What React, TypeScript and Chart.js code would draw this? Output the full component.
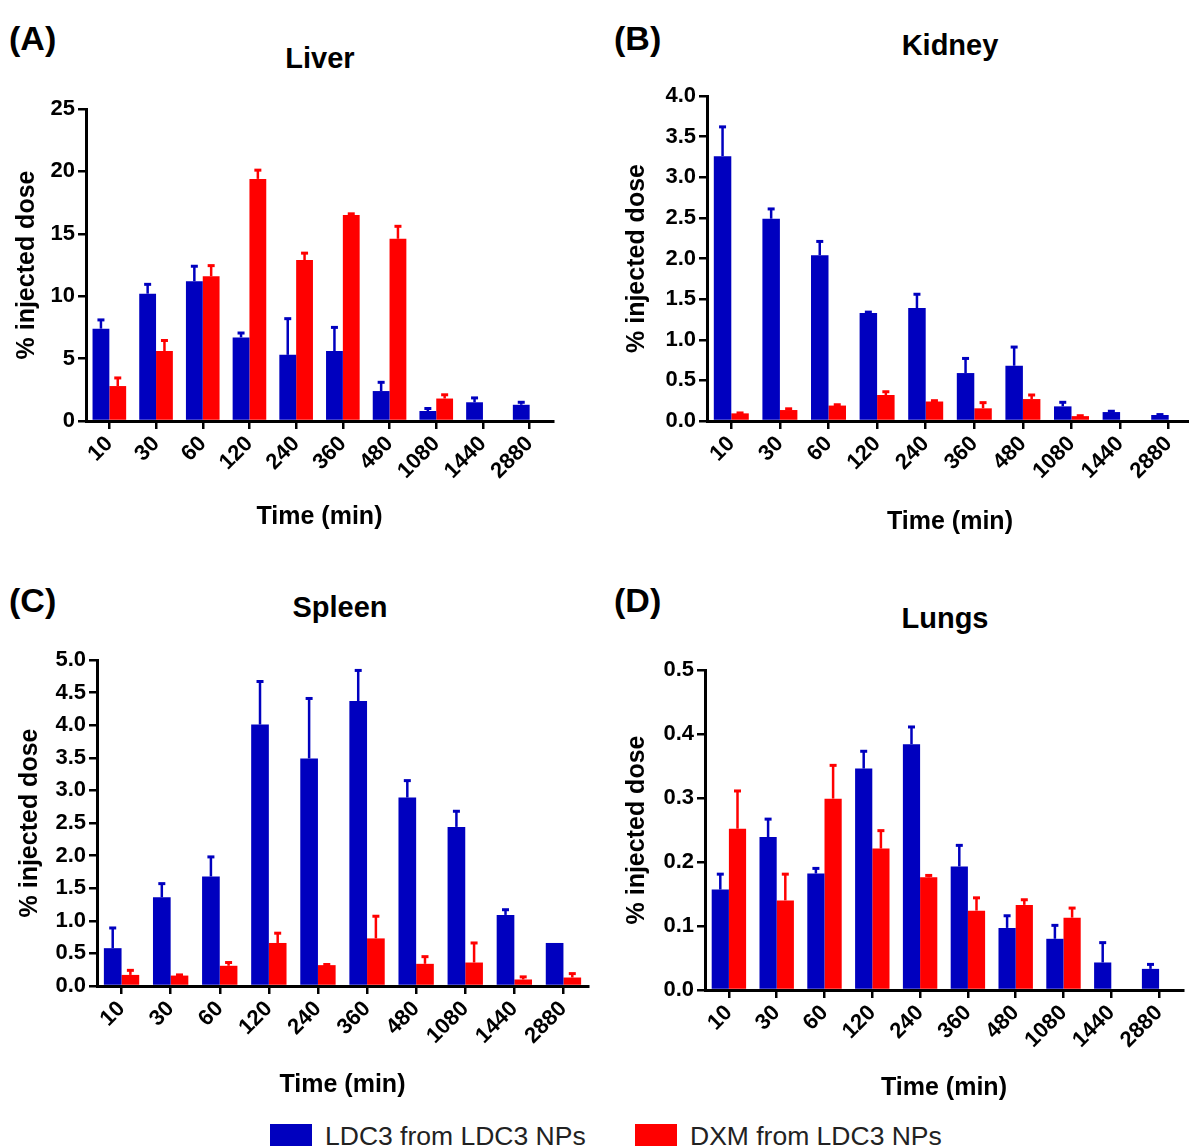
import React, { useEffect, useRef } from "react";
import { Chart, registerables } from "chart.js";

Chart.register(...registerables);

// ---------- DATA ----------
const categories = ["10", "30", "60", "120", "240", "360", "480", "1080", "1440", "2880"];

const liverLdc3 = [7.4, 10.2, 11.2, 6.7, 5.3, 5.6, 2.4, 0.8, 1.5, 1.3];
const liverLdc3Sd = [0.7, 0.75, 1.2, 0.35, 2.9, 1.9, 0.7, 0.2, 0.35, 0.2];
const liverDxm = [2.8, 5.6, 11.6, 19.4, 12.9, 16.5, 14.6, 1.8, null, null];
const liverDxmSd = [0.65, 0.85, 0.85, 0.7, 0.55, 0.1, 1.0, 0.3, null, null];
const liverTicks = [0, 5, 10, 15, 20, 25];

const kidneyLdc3 = [3.26, 2.49, 2.04, 1.33, 1.39, 0.59, 0.68, 0.18, 0.11, 0.074];
const kidneyLdc3Sd = [0.36, 0.12, 0.17, 0.01, 0.17, 0.18, 0.23, 0.05, 0.01, 0.005];
const kidneyDxm = [0.094, 0.135, 0.19, 0.32, 0.24, 0.156, 0.27, 0.06, null, null];
const kidneyDxmSd = [0.005, 0.015, 0.01, 0.04, 0.01, 0.07, 0.05, 0.005, null, null];
const kidneyTicks = [0, 0.5, 1.0, 1.5, 2.0, 2.5, 3.0, 3.5, 4.0];

const spleenLdc3 = [0.58, 1.36, 1.68, 4.01, 3.49, 4.37, 2.89, 2.44, 1.09, 0.66];
const spleenLdc3Sd = [0.31, 0.21, 0.3, 0.66, 0.92, 0.47, 0.26, 0.24, 0.08, 0];
const spleenDxm = [0.17, 0.16, 0.31, 0.66, 0.32, 0.73, 0.34, 0.36, 0.1, 0.13];
const spleenDxmSd = [0.07, 0.01, 0.05, 0.15, 0.01, 0.34, 0.11, 0.3, 0.04, 0.06];
const spleenTicks = [0, 0.5, 1.0, 1.5, 2.0, 2.5, 3.0, 3.5, 4.0, 4.5, 5.0];

const lungsLdc3 = [0.157, 0.239, 0.182, 0.346, 0.384, 0.193, 0.097, 0.08, 0.043, 0.033];
const lungsLdc3Sd = [0.024, 0.028, 0.008, 0.027, 0.027, 0.033, 0.019, 0.021, 0.031, 0.007];
const lungsDxm = [0.252, 0.14, 0.299, 0.221, 0.176, 0.124, 0.133, 0.113, null, null];
const lungsDxmSd = [0.059, 0.041, 0.052, 0.028, 0.003, 0.02, 0.008, 0.015, null, null];
const lungsTicks = [0, 0.1, 0.2, 0.3, 0.4, 0.5];

const seriesNames = ["LDC3 from LDC3 NPs", "DXM from LDC3 NPs"];
const xTitle = "Time (min)";
const yTitle = "% injected dose";

// ---------- STYLE ----------
const BLUE = "#0000BF";
const RED = "#FF0000";
const FAMILY = "'Liberation Sans', Arial, Helvetica, sans-serif";

const errorBarPlugin = {
  id: "errorBars",
  afterDatasetsDraw(chart: any) {
    const ctx = chart.ctx;
    const yScale = chart.scales.y;
    chart.data.datasets.forEach((ds: any, di: number) => {
      const meta = chart.getDatasetMeta(di);
      if (meta.hidden) return;
      const errs = ds.errorBars || [];
      meta.data.forEach((bar: any, i: number) => {
        const v = ds.data[i];
        const e = errs[i];
        if (v == null || e == null || e <= 0) return;
        const x = bar.x;
        const y0 = bar.y;
        const y1 = yScale.getPixelForValue(v + e);
        ctx.save();
        ctx.strokeStyle = ds.backgroundColor;
        ctx.lineWidth = 2.5;
        ctx.beginPath();
        ctx.moveTo(x, y0);
        ctx.lineTo(x, y1);
        ctx.stroke();
        ctx.lineWidth = 3;
        ctx.beginPath();
        ctx.moveTo(x - 3.5, y1);
        ctx.lineTo(x + 3.5, y1);
        ctx.stroke();
        ctx.restore();
      });
    });
  },
};

type PanelProps = {
  ldc3: (number | null)[];
  ldc3Sd: (number | null)[];
  dxm: (number | null)[];
  dxmSd: (number | null)[];
  ticks: number[];
  decimals: number;
  left: number;
  top: number;
  width: number;
  height: number;
  padTop: number;
  padRight: number;
  yWidth: number;
  xHeight: number;
  yTitlePad: number;
  xTitlePad: number;
};

function Panel(p: PanelProps) {
  const ref = useRef<HTMLCanvasElement | null>(null);
  useEffect(() => {
    if (!ref.current) return;
    const tickFont = { family: FAMILY, size: 22, weight: "bold" as const };
    const titleFont = { family: FAMILY, size: 25, weight: "bold" as const };
    const grid = {
      display: true,
      offset: false,
      drawOnChartArea: false,
      drawTicks: true,
      tickLength: 8,
      lineWidth: 2.5,
      color: "#000",
    };
    const border = { display: true, color: "#000", width: 3 };
    const chart = new Chart(ref.current, {
      type: "bar",
      data: {
        labels: categories,
        datasets: [
          {
            label: seriesNames[0],
            data: p.ldc3 as any,
            errorBars: p.ldc3Sd,
            backgroundColor: BLUE,
            categoryPercentage: 0.72,
            barPercentage: 1.0,
          } as any,
          {
            label: seriesNames[1],
            data: p.dxm as any,
            errorBars: p.dxmSd,
            backgroundColor: RED,
            categoryPercentage: 0.72,
            barPercentage: 1.0,
          } as any,
        ],
      },
      options: {
        responsive: false,
        animation: false,
        layout: { padding: { top: p.padTop, right: p.padRight, left: 0, bottom: 0 } },
        plugins: {
          legend: { display: false },
          tooltip: { enabled: false },
          title: { display: false },
        },
        scales: {
          x: {
            type: "category",
            offset: true,
            grid: grid as any,
            border: border as any,
            ticks: {
              autoSkip: false,
              minRotation: 45,
              maxRotation: 45,
              color: "#000",
              font: tickFont,
              padding: 2,
            },
            title: {
              display: true,
              text: xTitle,
              color: "#000",
              font: titleFont,
              padding: { top: 0, bottom: p.xTitlePad },
            },
            afterFit: (s: any) => {
              s.height = p.xHeight;
            },
          },
          y: {
            type: "linear",
            min: p.ticks[0],
            max: p.ticks[p.ticks.length - 1],
            grid: grid as any,
            border: border as any,
            afterBuildTicks: (s: any) => {
              s.ticks = p.ticks.map((v) => ({ value: v }));
            },
            ticks: {
              color: "#000",
              font: tickFont,
              padding: 3,
              callback: (v: any) => Number(v).toFixed(p.decimals),
            },
            title: {
              display: true,
              text: yTitle,
              color: "#000",
              font: titleFont,
              padding: { top: p.yTitlePad, bottom: 0 },
            },
            afterFit: (s: any) => {
              s.width = p.yWidth;
            },
          },
        },
      } as any,
      plugins: [errorBarPlugin],
    });
    return () => chart.destroy();
  }, []);
  return (
    <canvas
      ref={ref}
      width={p.width}
      height={p.height}
      style={{ position: "absolute", left: p.left, top: p.top, width: p.width, height: p.height }}
    />
  );
}

function Label(props: { text: string; x: number; y: number; size: number; center?: boolean }) {
  return (
    <div
      style={{
        position: "absolute",
        left: props.x,
        top: props.y,
        transform: props.center ? "translate(-50%, -50%)" : "translate(0, -50%)",
        fontFamily: FAMILY,
        fontWeight: "bold",
        fontSize: props.size,
        lineHeight: 1,
        whiteSpace: "nowrap",
        color: "#000",
      }}
    >
      {props.text}
    </div>
  );
}

export default function App() {
  return (
    <div
      style={{
        position: "absolute",
        left: 0,
        top: 0,
        width: 1189,
        height: 1147,
        overflow: "hidden",
        background: "#fff",
      }}
    >
      <Panel
        ldc3={liverLdc3}
        ldc3Sd={liverLdc3Sd}
        dxm={liverDxm}
        dxmSd={liverDxmSd}
        ticks={liverTicks}
        decimals={0}
        left={0}
        top={90}
        width={575}
        height={460}
        padTop={19}
        padRight={22}
        yWidth={86}
        xHeight={129}
        yTitlePad={12}
        xTitlePad={18}
      />
      <Panel
        ldc3={kidneyLdc3}
        ldc3Sd={kidneyLdc3Sd}
        dxm={kidneyDxm}
        dxmSd={kidneyDxmSd}
        ticks={kidneyTicks}
        decimals={1}
        left={600}
        top={75}
        width={595}
        height={470}
        padTop={21}
        padRight={2}
        yWidth={107}
        xHeight={124}
        yTitlePad={22}
        xTitlePad={8}
      />
      <Panel
        ldc3={spleenLdc3}
        ldc3Sd={spleenLdc3Sd}
        dxm={spleenDxm}
        dxmSd={spleenDxmSd}
        ticks={spleenTicks}
        decimals={1}
        left={0}
        top={640}
        width={600}
        height={470}
        padTop={20}
        padRight={12}
        yWidth={97}
        xHeight={124}
        yTitlePad={15}
        xTitlePad={10}
      />
      <Panel
        ldc3={lungsLdc3}
        ldc3Sd={lungsLdc3Sd}
        dxm={lungsDxm}
        dxmSd={lungsDxmSd}
        ticks={lungsTicks}
        decimals={1}
        left={600}
        top={650}
        width={589}
        height={460}
        padTop={20}
        padRight={6}
        yWidth={105}
        xHeight={120}
        yTitlePad={22}
        xTitlePad={7}
      />

      <Label text="(A)" x={9} y={38} size={34} />
      <Label text="(B)" x={614} y={38} size={34} />
      <Label text="(C)" x={9} y={600} size={34} />
      <Label text="(D)" x={614} y={600} size={34} />

      <Label text="Liver" x={320} y={58} size={29} center />
      <Label text="Kidney" x={950} y={45} size={29} center />
      <Label text="Spleen" x={340} y={607} size={29} center />
      <Label text="Lungs" x={945} y={618} size={29} center />

      <div style={{ position: "absolute", left: 270, top: 1124, width: 42, height: 22, background: BLUE }} />
      <div
        style={{
          position: "absolute",
          left: 325,
          top: 1136,
          transform: "translate(0, -50%)",
          fontFamily: FAMILY,
          fontSize: 26.5,
          lineHeight: 1,
          whiteSpace: "nowrap",
          color: "#222",
        }}
      >
        {seriesNames[0]}
      </div>
      <div style={{ position: "absolute", left: 635, top: 1124, width: 42, height: 22, background: RED }} />
      <div
        style={{
          position: "absolute",
          left: 690,
          top: 1136,
          transform: "translate(0, -50%)",
          fontFamily: FAMILY,
          fontSize: 26.5,
          lineHeight: 1,
          whiteSpace: "nowrap",
          color: "#222",
        }}
      >
        {seriesNames[1]}
      </div>
    </div>
  );
}
